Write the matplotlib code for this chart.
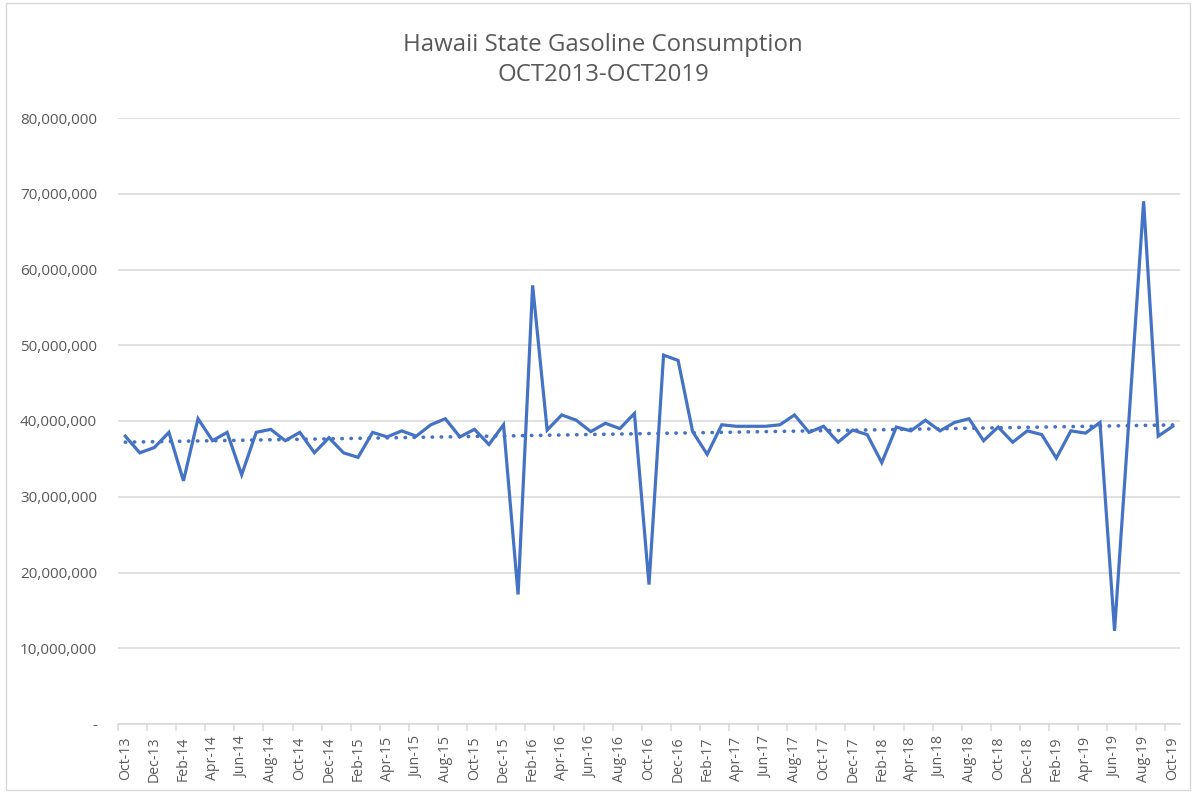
import numpy as np
import pandas as pd
import matplotlib
matplotlib.use('Agg')
import matplotlib.pyplot as plt
from matplotlib.ticker import FuncFormatter
from matplotlib.patches import Rectangle

plt.rcParams['font.family'] = ['Open Sans', 'DejaVu Sans']

# monthly gasoline consumption, Oct 2013 - Oct 2019 (gallons, millions)
months = pd.date_range('2013-10-01', '2019-10-01', freq='MS')
consumption_m = [
    38.0, 35.8, 36.5, 38.5, 32.1, 40.3, 37.4, 38.5, 32.9, 38.5, 38.9, 37.4,
    38.5, 35.8, 37.8, 35.8, 35.2, 38.5, 37.9, 38.7, 38.0, 39.5, 40.3, 37.9,
    38.9, 36.9, 39.5, 17.1, 57.9, 38.8, 40.8, 40.1, 38.6, 39.7, 39.0, 41.0,
    18.4, 48.7, 48.0, 38.6, 35.6, 39.5, 39.3, 39.3, 39.3, 39.5, 40.8, 38.5,
    39.3, 37.2, 38.8, 38.2, 34.5, 39.2, 38.7, 40.1, 38.7, 39.8, 40.3, 37.4,
    39.2, 37.2, 38.7, 38.2, 35.1, 38.7, 38.4, 39.8, 12.3, 40.5, 69.0, 38.0,
    39.3,
]
consumption = np.array(consumption_m) * 1e6
labels = [d.strftime('%b-%y') for d in months]

title = 'Hawaii State Gasoline Consumption\nOCT2013-OCT2019'
line_color = '#4472C4'
text_color = '#595959'
grid_color = '#D9D9D9'

x = np.arange(len(consumption))
slope, intercept = np.polyfit(x, consumption, 1)
trend = slope * x + intercept

fig = plt.figure(figsize=(11.95, 7.93), dpi=100)
ax = fig.add_axes([118 / 1195, 1 - 724 / 793, (1180 - 118) / 1195, (724 - 118) / 793])

ax.plot(x, consumption, color=line_color, linewidth=2.3, solid_joinstyle='miter', zorder=3)
ax.plot(x, trend, color=line_color, linewidth=2.6, linestyle=(0, (0.1, 2.4)),
        dash_capstyle='round', zorder=2)

ax.set_xlim(-0.5, len(x) - 0.5)
ax.set_ylim(0, 80e6)
ax.set_yticks(np.arange(0, 80e6 + 1, 10e6))
ax.yaxis.set_major_formatter(FuncFormatter(lambda v, p: '-' if v == 0 else f'{v:,.0f}'))
ax.grid(axis='y', color=grid_color, linewidth=1.1)
ax.set_axisbelow(True)

# labels every two months, tick marks on category boundaries
ax.set_xticks(x[::2])
ax.set_xticklabels(labels[::2], rotation=90, fontsize=10.2, color=text_color)
ax.set_xticks(np.arange(-0.5, len(x), 2), minor=True)
ax.tick_params(axis='x', which='major', length=0, pad=9)
ax.tick_params(axis='x', which='minor', length=5, color=grid_color, width=1.1)
ax.tick_params(axis='y', length=0, labelsize=11, labelcolor=text_color, pad=15)

for s in ['top', 'right', 'left']:
    ax.spines[s].set_visible(False)
ax.spines['bottom'].set_color(grid_color)
ax.spines['bottom'].set_linewidth(1.1)

fig.text(603 / 1195, 1 - 60 / 793, title, ha='center', va='center',
         fontsize=17.3, color=text_color, linespacing=1.35)

# chart area border
fig.patches.append(Rectangle((0.005, 0.004), 0.991, 0.992, transform=fig.transFigure,
                             fill=False, edgecolor=grid_color, linewidth=1))

plt.savefig('out.png', dpi=100)
